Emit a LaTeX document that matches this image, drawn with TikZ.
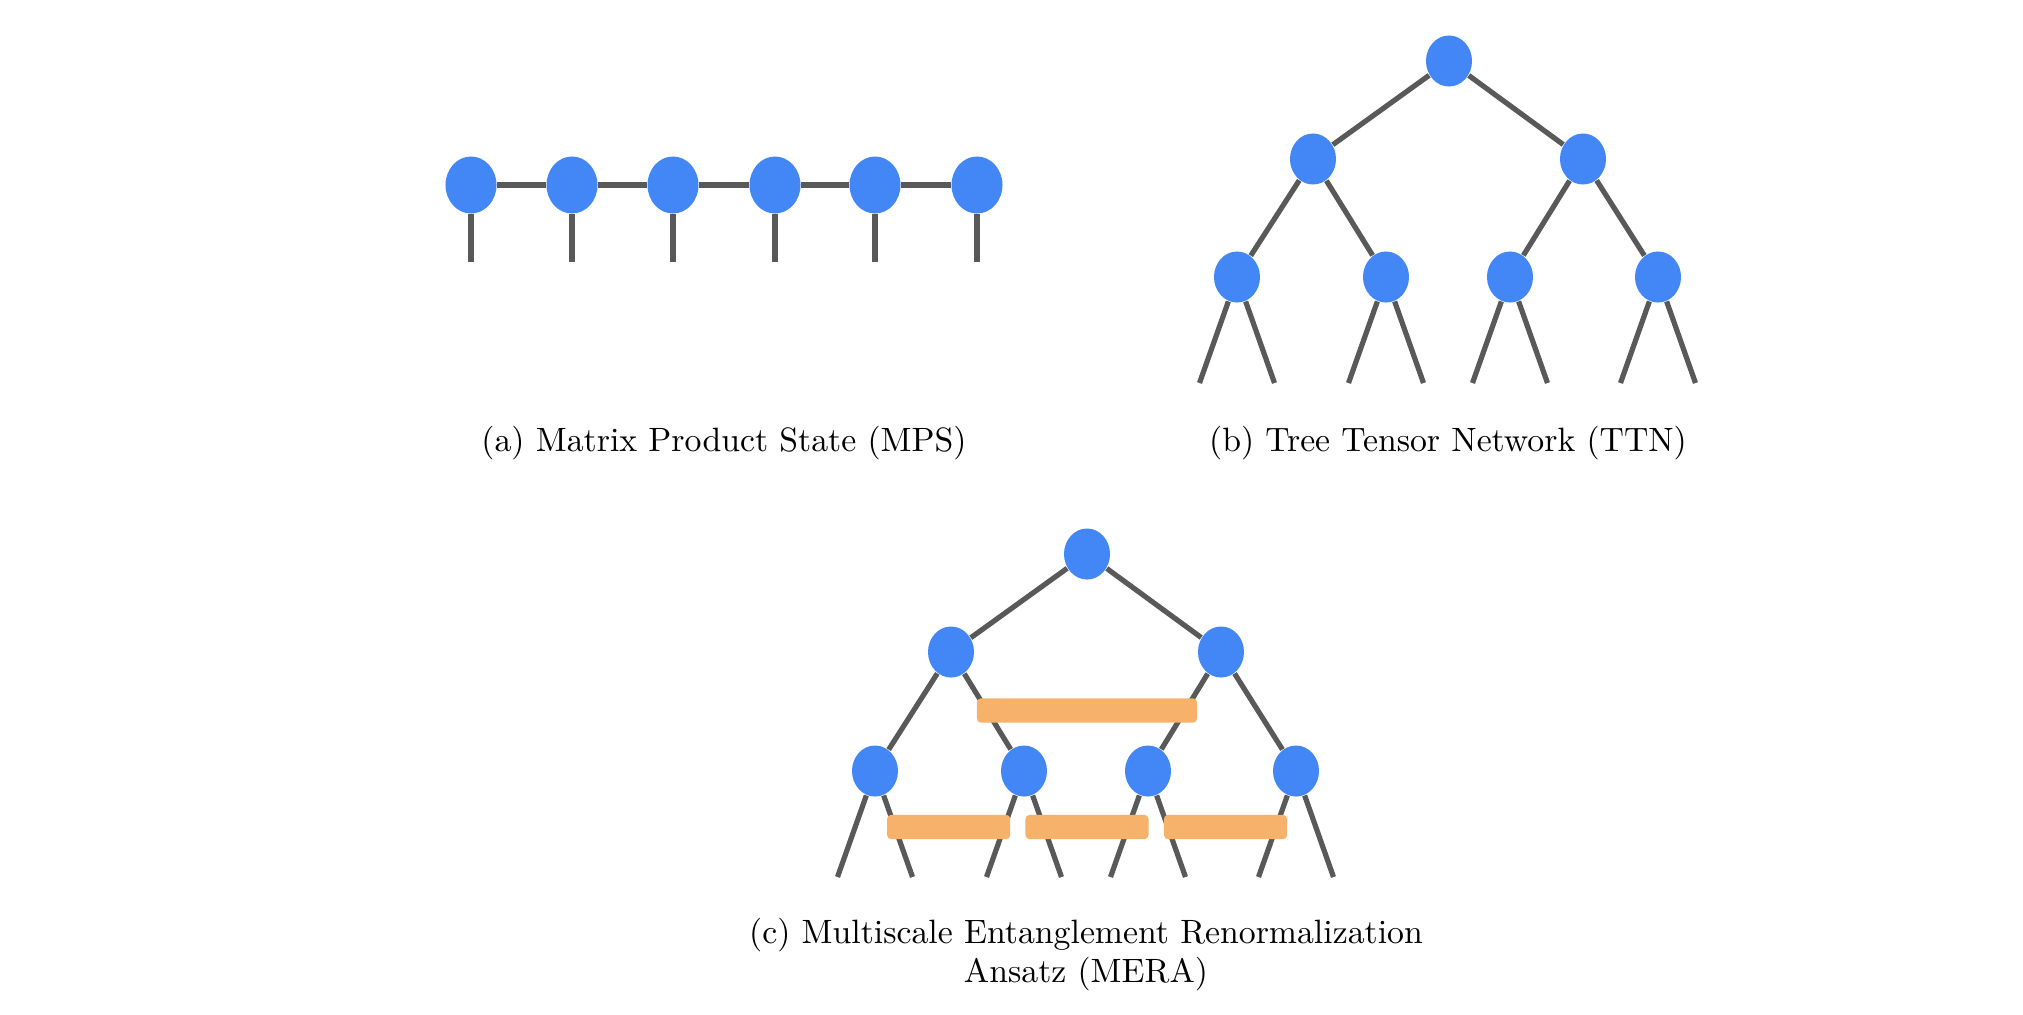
\documentclass[tikz,border=0pt]{standalone}
\usepackage{tikz}
\usetikzlibrary{shapes.geometric}
\usepackage{amsmath}

\definecolor{tnblue}{HTML}{4287F5}
\definecolor{tnorange}{HTML}{F6B26B}
\definecolor{tngray}{HTML}{595959}

\tikzset{
	tensor/.style={ellipse, fill=tnblue, inner sep=0pt, minimum width=0.46cm, minimum height=0.51cm},
	mpstensor/.style={ellipse, fill=tnblue, inner sep=0pt, minimum width=0.51cm, minimum height=0.57cm},
	gate/.style={rectangle, rounded corners=0.04cm, fill=tnorange, inner sep=0pt, minimum height=0.243cm},
	leg/.style={color=tngray, line width=0.052cm},
	caption/.style={inner sep=0pt, font=\fontsize{9.6}{11.1}\selectfont}
}

\begin{document}
\begin{tikzpicture}[x=0.01cm, y=-0.01cm]
			\useasboundingbox (0,0) rectangle (2023,1014);

			% (a) MPS
			\foreach \i/\x in {1/471, 2/572, 3/673, 4/775, 5/875, 6/977} {
				\node[mpstensor] (m\i) at (\x, 185) {};
				\coordinate (p\i) at (\x, 262);
			}
			\foreach \i/\j in {1/2, 2/3, 3/4, 4/5, 5/6}
			\draw[leg, line width=0.064cm] (m\i) -- (m\j);
			\foreach \i in {1,...,6}
			\draw[leg, line width=0.064cm] (m\i) -- (p\i);

			\node[caption] (capA) at (724, 443) {(a) Matrix Product State (MPS)};

			% (b) TTN
			\node[tensor] (t) at (1449, 61) {};
			\node[tensor] (tL) at (1313, 159) {};
			\node[tensor] (tR) at (1583, 159) {};
			\foreach \n/\x in {1/1237, 2/1386, 3/1510, 4/1658} {
				\node[tensor] (t\n) at (\x, 277) {};
				\coordinate (t\n a) at (\x-37.5, 383);
				\coordinate (t\n b) at (\x+37.5, 383);
			}

			\draw[leg] (t) -- (tL);
			\draw[leg] (t) -- (tR);
			\draw[leg] (tL) -- (t1);
			\draw[leg] (tL) -- (t2);
			\draw[leg] (tR) -- (t3);
			\draw[leg] (tR) -- (t4);
			\foreach \n in {1,...,4} {
				\draw[leg] (t\n) -- (t\n a);
				\draw[leg] (t\n) -- (t\n b);
			}

			\node[caption] (capB) at (1448, 443) {(b) Tree Tensor Network (TTN)};

			% (c) MERA
			\node[tensor] (r) at (1087, 554) {};
			\node[tensor] (rL) at (951, 652) {};
			\node[tensor] (rR) at (1221, 652) {};
			\foreach \n/\x in {1/875, 2/1024, 3/1148, 4/1296} {
				\node[tensor] (r\n) at (\x, 771) {};
				\coordinate (r\n a) at (\x-37.5, 877);
				\coordinate (r\n b) at (\x+37.5, 877);
			}

			\draw[leg] (r) -- (rL);
			\draw[leg] (r) -- (rR);
			\draw[leg] (rL) -- (r1);
			\draw[leg] (rL) -- (r2);
			\draw[leg] (rR) -- (r3);
			\draw[leg] (rR) -- (r4);
			\foreach \n in {1,...,4} {
				\draw[leg] (r\n) -- (r\n a);
				\draw[leg] (r\n) -- (r\n b);
			}

			% disentanglers
			\node[gate, minimum width=2.2cm] (u0) at (1087, 710.5) {};
			\foreach \n/\x in {1/948.7, 2/1087, 3/1225.5}
			\node[gate, minimum width=1.23cm] (u\n) at (\x, 827) {};

			\node[caption, align=center] (capC) at (1086, 955) {(c) Multiscale Entanglement Renormalization\\Ansatz (MERA)};
		\end{tikzpicture}
\end{document}
